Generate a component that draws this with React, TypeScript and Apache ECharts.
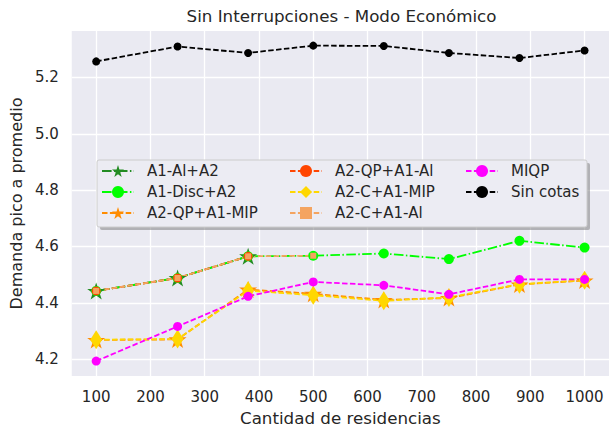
import React, { useEffect, useRef } from "react";
import * as echarts from "echarts";

const xs = [100, 250, 380, 500, 630, 750, 880, 1000];
const xTicks = [100, 200, 300, 400, 500, 600, 700, 800, 900, 1000];
const yTicks = [4.2, 4.4, 4.6, 4.8, 5.0, 5.2];

const a1AlA2 = [4.442, 4.488, 4.565];
const a1DiscA2 = [4.442, 4.488, 4.565, 4.567, 4.575, 4.555, 4.62, 4.596];
const a2QpA1Mip = [4.268, 4.27, 4.447, 4.432, 4.41, 4.417, 4.465, 4.479];
const a2QpA1Al = [4.442, 4.488, 4.565];
const a2CA1Mip = [4.269, 4.271, 4.443, 4.427, 4.407, 4.419, 4.466, 4.48];
const a2CA1Al = [4.442, 4.488, 4.565, 4.567];
const miqp = [4.193, 4.316, 4.423, 4.474, 4.462, 4.43, 4.483, 4.483];
const sinCotas = [5.257, 5.31, 5.287, 5.313, 5.312, 5.287, 5.269, 5.296];

const names = [
  "A1-Al+A2",
  "A1-Disc+A2",
  "A2-QP+A1-MIP",
  "A2-QP+A1-Al",
  "A2-C+A1-MIP",
  "A2-C+A1-Al",
  "MIQP",
  "Sin cotas",
];

const STAR =
  "path://M0,-1L0.2245,-0.309L0.951,-0.309L0.363,0.118L0.588,0.809L0,0.382L-0.588,0.809L-0.363,0.118L-0.951,-0.309L-0.2245,-0.309Z";

const FONT = "DejaVu Sans";
const TXT = "#262626";
const DASH = [5.5, 2.4];
const DASHDOT = [9.6, 2.4, 1.5, 2.4];

const pts = (vals: number[]) => vals.map((v, i) => [xs[i], v]);

export default function App() {
  const ref = useRef<HTMLDivElement>(null);
  useEffect(() => {
    document.body.style.margin = "0";
    const chart = echarts.init(ref.current!, undefined, { renderer: "svg" });
    const mk = (
      name: string,
      vals: number[],
      color: string,
      symbol: string,
      size: number | number[],
      dash: number[] | "solid",
      width = 1.8
    ) => ({
      type: "line",
      name,
      data: pts(vals),
      symbol,
      symbolSize: size,
      symbolKeepAspect: true,
      showSymbol: true,
      itemStyle: { color, borderWidth: 0 },
      lineStyle: { color, width, type: dash },
      emphasis: { disabled: true },
    });
    const legendCommon = {
      orient: "vertical",
      top: 163.5,
      padding: 0,
      itemWidth: 32,
      itemHeight: 15,
      itemGap: 6,
      selectedMode: false,
      z: 10,
      textStyle: { fontFamily: FONT, fontSize: 15, color: TXT, padding: [0, 0, 0, 8] },
    };
    chart.setOption({
      animation: false,
      backgroundColor: "#ffffff",
      title: {
        text: "Sin Interrupciones - Modo Económico",
        left: 341.5,
        textAlign: "center",
        top: 7,
        padding: 0,
        textStyle: { fontFamily: FONT, fontSize: 16.7, fontWeight: "normal", color: TXT },
      },
      grid: { left: 70, right: -4, top: 31, bottom: 51, show: true, backgroundColor: "#EAEAF2", borderWidth: 0 },
      xAxis: {
        type: "value",
        min: 55,
        max: 1045,
        name: "Cantidad de residencias",
        nameLocation: "middle",
        nameGap: 33,
        nameTextStyle: { fontFamily: FONT, fontSize: 16.7, color: TXT },
        axisLine: { show: false },
        axisTick: { show: false, customValues: xTicks },
        axisLabel: {
          customValues: xTicks,
          fontFamily: FONT,
          fontSize: 15,
          color: TXT,
          margin: 13,
          formatter: (v: number) => String(v),
        },
        splitLine: { show: true, lineStyle: { color: "#ffffff", width: 1.3 } },
      },
      yAxis: {
        type: "value",
        min: 4.14,
        max: 5.365,
        name: "Demanda pico a promedio",
        nameLocation: "middle",
        nameGap: 44,
        nameTextStyle: { fontFamily: FONT, fontSize: 16, color: TXT },
        axisLine: { show: false },
        axisTick: { show: false, customValues: yTicks },
        axisLabel: {
          customValues: yTicks,
          fontFamily: FONT,
          fontSize: 15,
          color: TXT,
          margin: 13,
          formatter: (v: number) => v.toFixed(1),
        },
        splitLine: { show: true, lineStyle: { color: "#ffffff", width: 1.3 } },
      },
      legend: [
        { ...legendCommon, left: 101, data: names.slice(0, 3) },
        { ...legendCommon, left: 289, data: names.slice(3, 6) },
        { ...legendCommon, left: 465, data: names.slice(6, 8) },
      ],
      graphic: [
        {
          type: "rect",
          z: 5,
          shape: { x: 100, y: 163, width: 490, height: 67, r: 2 },
          style: { fill: "rgba(120,120,120,0.5)" },
          silent: true,
        },
        {
          type: "rect",
          z: 6,
          shape: { x: 97, y: 160, width: 490, height: 67, r: 2 },
          style: { fill: "#ECECF3", stroke: "#cccccc", lineWidth: 1 },
          silent: true,
        },
      ],
      series: [
        mk(names[0], a1AlA2, "#228B22", STAR, 18, DASHDOT),
        mk(names[1], a1DiscA2, "#00FF00", "circle", 10, DASHDOT),
        mk(names[2], a2QpA1Mip, "#FF8C00", STAR, 18, DASH),
        mk(names[3], a2QpA1Al, "#FF4500", "circle", 9, DASH),
        mk(names[4], a2CA1Mip, "#FFD700", "diamond", [12, 19], DASH),
        mk(names[5], a2CA1Al, "#F4A460", "rect", 6, DASH),
        mk(names[6], miqp, "#FF00FF", "circle", 9, DASH),
        mk(names[7], sinCotas, "#000000", "circle", 8, DASH),
      ],
    });
    return () => chart.dispose();
  }, []);
  return <div ref={ref} style={{ width: 609, height: 431 }} />;
}
